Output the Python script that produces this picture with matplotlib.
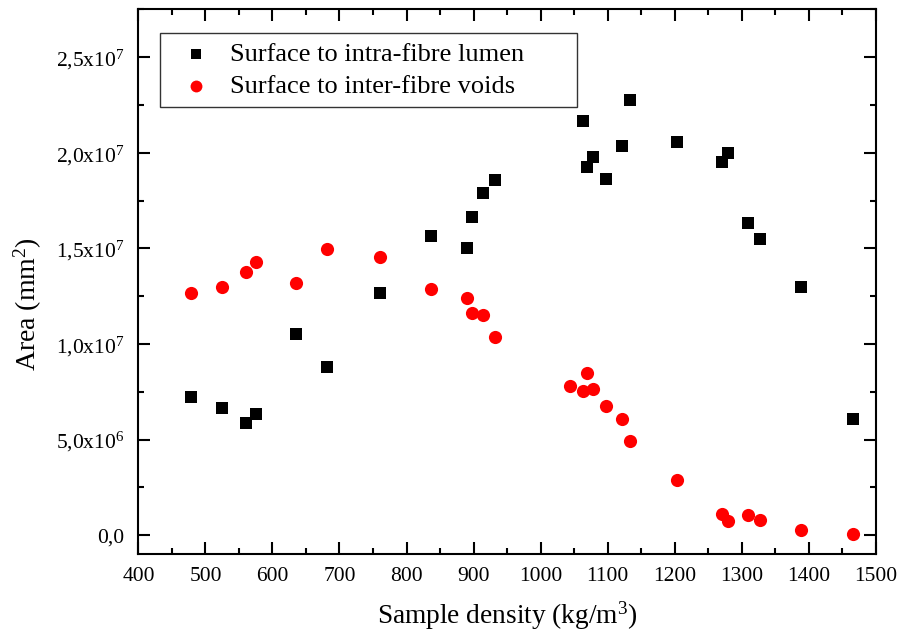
"""Surface area vs sample density scatter (intra-fibre lumen vs inter-fibre voids)."""

import matplotlib

matplotlib.use("Agg")
import matplotlib.pyplot as plt
from matplotlib.ticker import FuncFormatter, MultipleLocator

plt.rcParams["font.family"] = ["Liberation Serif", "DejaVu Serif"]
plt.rcParams["mathtext.fontset"] = "custom"
plt.rcParams["mathtext.rm"] = "Liberation Serif"
plt.rcParams["mathtext.it"] = "Liberation Serif"

# densities (kg/m3), shared by both series
density = [478, 524, 560, 575, 635, 681, 760, 837, 890, 898, 914, 932,
           1063, 1069, 1078, 1097, 1121, 1133, 1204, 1271, 1280, 1309, 1327, 1388, 1466]
lumen = [7.25e6, 6.64e6, 5.85e6, 6.32e6, 1.05e7, 8.78e6, 1.264e7, 1.567e7, 1.50e7, 1.663e7,
         1.792e7, 1.857e7, 2.168e7, 1.923e7, 1.977e7, 1.862e7, 2.033e7, 2.278e7, 2.055e7,
         1.954e7, 2.0e7, 1.63e7, 1.547e7, 1.30e7, 6.06e6]

void_density = [478, 524, 560, 575, 635, 681, 760, 837, 890, 898, 914, 932,
                1044, 1063, 1069, 1078, 1097, 1121, 1133, 1204, 1271, 1280, 1309, 1327, 1388, 1466]
voids = [1.265e7, 1.30e7, 1.375e7, 1.43e7, 1.32e7, 1.495e7, 1.455e7, 1.285e7, 1.24e7, 1.16e7,
         1.15e7, 1.035e7, 7.78e6, 7.52e6, 8.46e6, 7.63e6, 6.74e6, 6.06e6, 4.93e6, 2.87e6,
         1.1e6, 0.73e6, 1.04e6, 0.78e6, 0.26e6, 0.05e6]

y_ticks = [0, 5e6, 1e7, 1.5e7, 2e7, 2.5e7]


def area_label(v, pos):
    if v == 0:
        return "0,0"
    exp = len(str(int(v))) - 1
    mant = f"{v / 10 ** exp:.1f}".replace(".", ",")
    return mant + r"x10$^{" + str(exp) + "}$"


fig = plt.figure(figsize=(8.99, 6.39), dpi=100)
ax = fig.add_axes([0.154, 0.1326, 0.82, 0.8528])

ax.scatter(density, lumen, marker="s", s=64, color="black", linewidths=0,
           label="Surface to intra-fibre lumen", zorder=3)
ax.scatter(void_density, voids, marker="o", s=90, color="#ff0000", linewidths=0,
           label="Surface to inter-fibre voids", zorder=3)

ax.set_xlim(400, 1500)
ax.set_ylim(-1e6, 2.75e7)
ax.xaxis.set_major_locator(MultipleLocator(100))
ax.xaxis.set_minor_locator(MultipleLocator(50))
ax.set_yticks(y_ticks)
ax.yaxis.set_minor_locator(MultipleLocator(2.5e6))
ax.yaxis.set_major_formatter(FuncFormatter(area_label))

for side in ax.spines.values():
    side.set_linewidth(1.5)
ax.tick_params(which="both", direction="in", top=True, right=True, width=1.5,
               labelsize=15.5)
ax.tick_params(which="major", length=8.5)
ax.tick_params(axis="x", which="major", pad=9)
ax.tick_params(axis="y", which="major", pad=10)
ax.tick_params(which="minor", length=4.5)

ax.set_xlabel(r"Sample density (kg/m$^{3}$)", fontsize=19.7, labelpad=10)
ax.set_ylabel(r"Area (mm$^{2}$)", fontsize=20)
ax.yaxis.set_label_coords(-0.128, 0.46)

leg = ax.legend(loc="upper left", bbox_to_anchor=(0.0292, 0.5, 0.5654, 0.4565),
                mode="expand", borderaxespad=0, fontsize=19, frameon=True,
                fancybox=False, edgecolor="black", handletextpad=0.3, borderpad=0.35,
                labelspacing=0.33, handlelength=2.0, scatterpoints=1, markerscale=0.9)
leg.get_frame().set_linewidth(1.0)

fig.savefig("out.png", dpi=100)
